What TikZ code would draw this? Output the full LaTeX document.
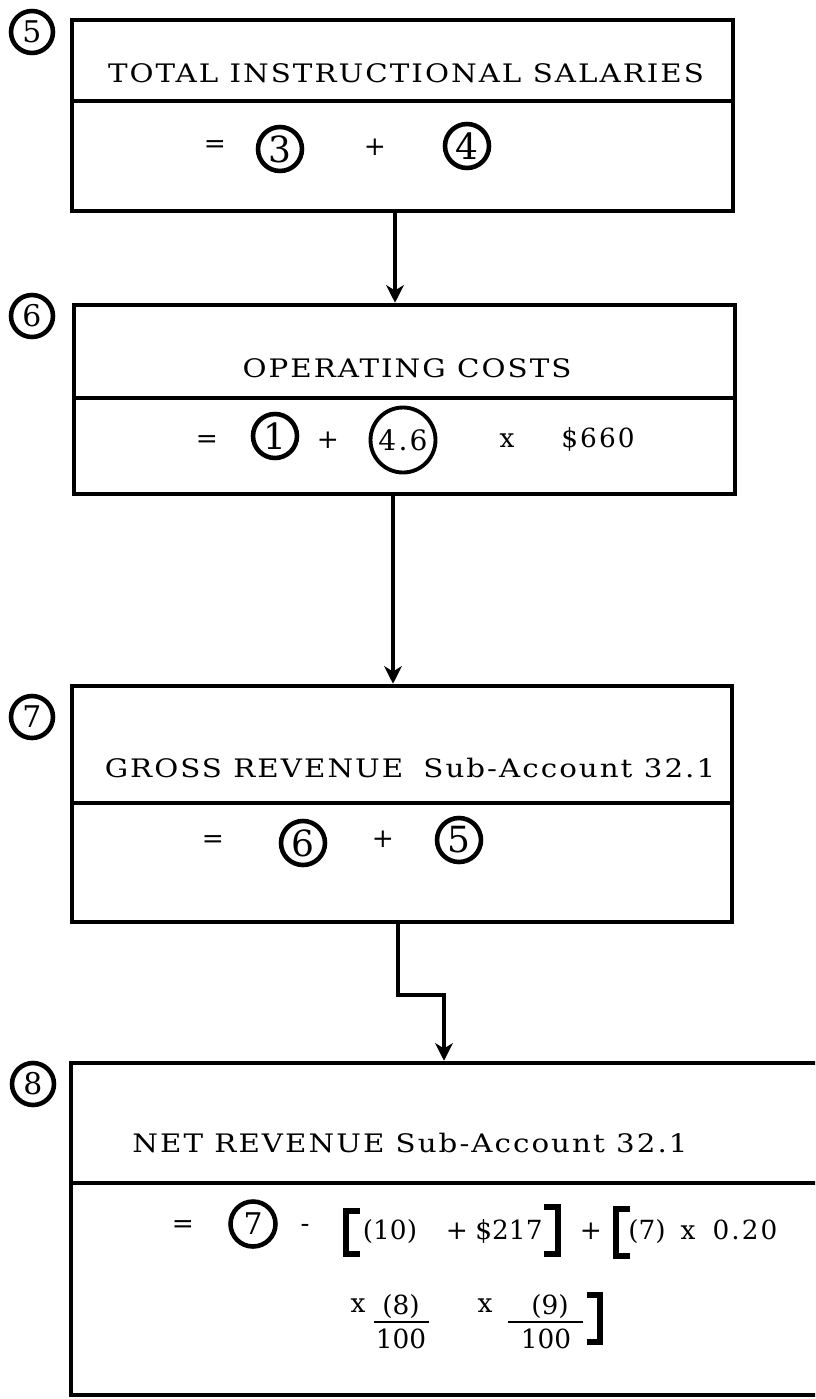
\documentclass[tikz,border=0pt]{standalone}
\usepackage{fontspec}
\setmainfont{DejaVu Serif}
\newfontfamily\spacedfont[FakeStretch=1.15,LetterSpace=8]{DejaVu Serif}
\newfontfamily\looserfont[LetterSpace=8]{DejaVu Serif}
\usetikzlibrary{arrows.meta,calc,positioning}

\tikzset{
  blockbox/.style={draw, line width=2.6pt, inner sep=0pt},
  divider/.style={line width=2.2pt},
  flow/.style={line width=1.8pt, line join=miter, -{Stealth[length=10pt,width=10pt,inset=3pt]}},
  refnum/.style={circle, draw, line width=2.6pt, inner sep=0pt, minimum size=8.4mm, font=\fontsize{17}{17}\selectfont},
  termnum/.style={refnum, minimum size=8.8mm, font=\fontsize{20.5}{20.5}\selectfont},
  heading/.style={anchor=base, inner sep=0pt, font=\fontsize{14.5}{17}\spacedfont},
  term/.style={inner sep=0pt, font=\fontsize{15}{18}\selectfont},
  termbase/.style={term, anchor=base},
  bracket/.style={line width=3.4pt, line join=miter},
  fracbar/.style={line width=1.4pt},
}

\begin{document}
\begin{tikzpicture}[x=0.02cm, y=-0.02cm]
    \useasboundingbox (0,0) rectangle (815,1399);
    \clip (0,0) rectangle (815,1399);
    % the four blocks
    \node[blockbox, minimum width=132.2mm, minimum height=38.2mm] (salaries) at (402.5,115.5) {};
    \node[blockbox, minimum width=132.2mm, minimum height=37.8mm] (operating) at (404.5,399.5) {};
    \node[blockbox, minimum width=132.0mm, minimum height=47.2mm] (gross) at (402,804) {};
    \node[blockbox, minimum width=154.8mm, minimum height=66.4mm] (net) at (458,1229) {};
    % dividers
    \draw[divider] ($(salaries.north west)!0.424!(salaries.south west)$) -- ($(salaries.north east)!0.424!(salaries.south east)$);
    \draw[divider] ($(operating.north west)!0.49!(operating.south west)$) -- ($(operating.north east)!0.49!(operating.south east)$);
    \draw[divider] ($(gross.north west)!0.496!(gross.south west)$) -- ($(gross.north east)!0.496!(gross.south east)$);
    \draw[divider] ($(net.north west)!0.364!(net.south west)$) -- ($(net.north east)!0.364!(net.south east)$);
    % block numbers
    \node[refnum] (n5) at (32,32) {5};
    \node[refnum] (n6) at (32,316) {6};
    \node[refnum] (n7) at (32,717) {7};
    \node[refnum] (n8) at (33,1084) {8};
    % headings
    \node[heading] (salhead) at (406,83) {TOTAL INSTRUCTIONAL SALARIES};
    \node[heading] (ophead) at (407,377) {OPERATING COSTS};
    \node[heading] (grosshead) at (410,777) {GROSS REVENUE\hspace{5pt} Sub-Account 32.1};
    \node[heading] (nethead) at (410,1152) {NET REVENUE Sub-Account 32.1};
    % block 5 terms
    \node[term] (saleq) at (215,147) {=};
    \node[termnum] (sal3) at (280,149) {3};
    \node[term] (salplus) at (375,147) {+};
    \node[termnum] (sal4) at (467,146) {4};
    % block 6 terms
    \node[term] (opeq) at (207,442) {=};
    \node[termnum] (op1) at (275,436) {1};
    \node[term] (opplus) at (328,440) {+};
    \node[refnum, minimum size=13mm, line width=2.2pt, font=\fontsize{16}{16}\looserfont] (op46) at (403,440) {4.6};
    \node[termbase] (optimes) at (507,447) {x};
    \node[termbase, font=\fontsize{15}{18}\looserfont] (oprate) at (598,447) {\$660};
    % block 7 terms
    \node[term] (grosseq) at (213,842) {=};
    \node[termnum] (gross6) at (303,843) {6};
    \node[term] (grossplus) at (383,839) {+};
    \node[termnum] (gross5) at (459,840) {5};
    % block 8 terms, first line
    \node[term] (neteq) at (183,1227) {=};
    \node[refnum, minimum size=9mm] (net7) at (253,1224) {7};
    \node[term] (netminus) at (305,1228) {-};
    \node[termbase] (net10) at (390,1239) {(10)};
    \node[termbase] (netplusa) at (457,1239) {+};
    \node[termbase] (netfee) at (509,1239) {\$217};
    \node[termbase] (netplusb) at (591,1239) {+};
    \node[termbase] (netseven) at (647,1239) {(7)};
    \node[termbase] (nettimesa) at (688,1239) {x};
    \node[termbase, font=\fontsize{15}{18}\looserfont] (netshare) at (745,1239) {0.20};
    % block 8 terms, second line
    \node[termbase] (nettimesb) at (358,1312) {x};
    \node[termbase] (neteight) at (401,1314) {(8)};
    \node[termbase] (nethundreda) at (401,1348) {100};
    \node[termbase] (nettimesc) at (485,1312) {x};
    \node[termbase] (netnine) at (550,1314) {(9)};
    \node[termbase] (nethundredb) at (546,1348) {100};
    \draw[fracbar] (374,1322) -- (429,1322);
    \draw[fracbar] (508,1322) -- (583,1322);
    % brackets
    \draw[bracket] (360,1211) -- (346,1211) -- (346,1254) -- (360,1254);
    \draw[bracket] (544,1207) -- (558,1207) -- (558,1254) -- (544,1254);
    \draw[bracket] (630,1209) -- (616,1209) -- (616,1256) -- (630,1256);
    \draw[bracket] (587,1295) -- (600,1295) -- (600,1342) -- (587,1342);
    % connectors
    \coordinate (link5) at (395,0);
    \coordinate (link6) at (393,0);
    \coordinate (link7) at (398,0);
    \coordinate (elbow) at (444,995);
    \draw[flow] (salaries.south -| link5) -- (operating.north -| link5);
    \draw[flow] (operating.south -| link6) -- (gross.north -| link6);
    \draw[flow] (gross.south -| link7) |- (elbow) -- (net.north -| elbow);
\end{tikzpicture}
\end{document}
